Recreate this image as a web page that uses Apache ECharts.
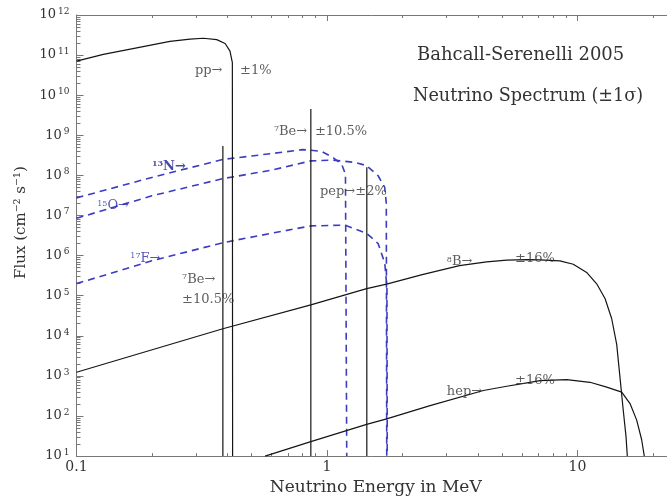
<!DOCTYPE html>
<html><head><meta charset="utf-8">
<script src="https://cdn.jsdelivr.net/npm/echarts@6/dist/echarts.min.js"></script>
<style>html,body{margin:0;padding:0;background:#fff}#c{width:667px;height:501px}</style>
</head><body><div id="c"></div>
<script>
// ---------- data (E in MeV, flux in cm^-2 s^-1 [MeV^-1]) ----------
const ppE  = [0.1, 0.128, 0.174, 0.236, 0.284, 0.321, 0.363, 0.392, 0.410, 0.419, 0.420];
const ppF  = [7.1e10, 1.04e11, 1.52e11, 2.21e11, 2.51e11, 2.63e11, 2.43e11, 1.95e11, 1.26e11, 6.5e10, 10];

const n13E = [0.1, 0.2, 0.384, 0.6, 0.8, 0.95, 1.06, 1.145, 1.185, 1.199];
const n13F = [2.75e7, 8.9e7, 2.5e8, 3.5e8, 4.4e8, 4.0e8, 2.75e8, 1.9e8, 1.07e8, 10];

const o15E = [0.1, 0.2, 0.384, 0.6, 0.862, 1.06, 1.3, 1.44, 1.6, 1.7, 1.725, 1.732];
const o15F = [8.5e6, 3.1e7, 8.3e7, 1.35e8, 2.3e8, 2.4e8, 2.1e8, 1.75e8, 9.8e7, 5.0e7, 2.0e7, 10];

const f17E = [0.1, 0.2, 0.384, 0.6, 0.862, 1.18, 1.44, 1.6, 1.7, 1.735, 1.74];
const f17F = [2.0e5, 7.4e5, 2.1e6, 3.6e6, 5.5e6, 5.75e6, 3.6e6, 2.0e6, 6.6e5, 1.6e5, 10];

const b8E  = [0.1, 0.384, 0.862, 1.44, 1.73, 2.4, 3.38, 4.34, 5.22, 6.3, 7.08, 8.51, 9.62, 10.88, 11.93, 12.88, 13.69, 14.34, 14.78, 15.23, 15.62, 15.81];
const b8F  = [1.23e3, 1.5e4, 5.9e4, 1.5e5, 1.95e5, 3.35e5, 5.6e5, 7.0e5, 7.7e5, 7.9e5, 7.8e5, 7.4e5, 6.1e5, 3.8e5, 1.98e5, 8.5e4, 2.7e4, 6.1e3, 920, 139, 31, 10];

const hepE = [0.566, 0.862, 1.44, 1.73, 2.58, 4.21, 5.22, 6.46, 7.08, 9.06, 11.22, 13.08, 15.02, 16.21, 17.23, 18.04, 18.48];
const hepF = [10, 23, 62, 85, 181, 432, 553, 693, 760, 804, 693, 524, 394, 204, 79, 25.6, 10];

// line sources: energy and (bottom, top) flux
const lineE    = [0.384, 0.862, 1.442];
const lineTopF = [5.4e8, 4.5e9, 1.6e8];
const lineBotF = [10, 10, 10];

// tick labels
const xMajorTicks = [0.1, 1, 10];
const xMinorTicks = [0.2,0.3,0.4,0.5,0.6,0.7,0.8,0.9,2,3,4,5,6,7,8,9,20];
const yMajorTicks = [1e1,1e2,1e3,1e4,1e5,1e6,1e7,1e8,1e9,1e10,1e11,1e12];
const yMinorTicks = [];
for (let n = 1; n < 12; n++) for (let k = 2; k <= 9; k++) yMinorTicks.push(k * Math.pow(10, n));

// annotation texts and their data-space anchors
const annoText = ['pp→', '±1%', '{s|7}Be→', '±10.5%', '{s|13}N→', '{s|15}O→', '{s|17}F→', '{s|7}Be→', '±10.5%', 'pep→±2%', '{s|8}B→', '±16%', 'hep→', '±16%'];
const annoE    = [0.297, 0.45, 0.614, 0.895, 0.200, 0.121, 0.164, 0.264, 0.264, 0.938, 3.01, 5.63, 3.01, 5.63];
const annoF    = [4.2e10, 4.2e10, 1.27e9, 1.27e9, 1.65e8, 1.73e7, 8.6e5, 2.5e5, 8.0e4, 4.0e7, 6.9e5, 8.6e5, 397, 780];
const annoKind = ['k','k','k','k','nb','n','n','k','k','k','k','k','k','k'];

// ---------- chart ----------
const FONT = 'DejaVu Serif';
const AX = '#777', TXT = '#333', BLK = '#151515', BLUE = '#3c3cc0';
const X_MAX = 22.77;
const pairs = (E, F) => E.map((e, i) => [e, F[i]]);

function xAxis(pos, major, withLabel) {
  return {
    type: 'log', logBase: 10, min: 0.1, max: X_MAX, position: pos,
    axisLine: { show: major, onZero: false, lineStyle: { color: AX, width: 1 } },
    axisTick: { show: true, inside: true, length: major ? 6 : 3,
      customValues: major ? xMajorTicks : xMinorTicks, lineStyle: { color: AX } },
    axisLabel: { show: withLabel, customValues: xMajorTicks, margin: 4,
      fontFamily: FONT, fontSize: 14, color: TXT,
      formatter: v => (v < 1 ? '0.1' : String(Math.round(v))) },
    splitLine: { show: false }
  };
}
function yAxis(major, withLabel) {
  return {
    type: 'log', logBase: 10, min: 10, max: 1e12, position: 'left',
    axisLine: { show: major, onZero: false, lineStyle: { color: AX, width: 1 } },
    axisTick: { show: true, inside: true, length: major ? 7 : 4,
      customValues: major ? yMajorTicks : yMinorTicks, lineStyle: { color: AX } },
    axisLabel: { show: withLabel, customValues: yMajorTicks, margin: 7,
      formatter: v => '{b|10}{s|' + Math.round(Math.log10(v)) + '}',
      rich: {
        b: { fontFamily: FONT, fontSize: 13, color: TXT, lineHeight: 16 },
        s: { fontFamily: FONT, fontSize: 9, color: TXT, lineHeight: 10, verticalAlign: 'top', padding: [0, 0, 0, 2] }
      } },
    splitLine: { show: false }
  };
}

const xs = [xAxis('bottom', true, true), xAxis('bottom', false, false), xAxis('top', true, false), xAxis('top', false, false)];
xs[0].name = 'Neutrino Energy in MeV';
xs[0].nameLocation = 'middle';
xs[0].nameGap = 19;
xs[0].nameTextStyle = { fontFamily: FONT, fontSize: 17, color: TXT, padding: [0, 0, 0, 8] };

const ys = [yAxis(true, true), yAxis(false, false)];
ys[0].name = 'Flux (cm⁻² s⁻¹)';
ys[0].nameLocation = 'middle';
ys[0].nameGap = 46;
ys[0].nameTextStyle = { fontFamily: FONT, fontSize: 15, color: TXT, padding: [0, 0, 0, 26] };

const solid = (name, data) => ({ type: 'line', name, data, showSymbol: false, symbol: 'none',
  lineStyle: { color: BLK, width: 1.2 }, z: 3, silent: true });
const dashed = (name, data) => ({ type: 'line', name, data, showSymbol: false, symbol: 'none',
  lineStyle: { color: BLUE, width: 1.6, type: [7, 5] }, z: 2, silent: true });

const series = [
  solid('pp', pairs(ppE, ppF)),
  dashed('13N', pairs(n13E, n13F)),
  dashed('15O', pairs(o15E, o15F)),
  dashed('17F', pairs(f17E, f17F)),
  solid('8B', pairs(b8E, b8F)),
  solid('hep', pairs(hepE, hepF))
];
const lineNames = ['7Be 0.384', '7Be 0.862', 'pep'];
lineE.forEach((e, i) => series.push(solid(lineNames[i], [[e, lineBotF[i]], [e, lineTopF[i]]])));

const kindStyle = {
  k:  { color: TXT, fontWeight: 'normal' },
  n:  { color: '#2c2ca8', fontWeight: 'normal' },
  nb: { color: '#1c1c8c', fontWeight: 'bold' }
};
series.push({
  type: 'scatter', name: 'labels', symbolSize: 0, silent: true, clip: false, z: 5,
  data: annoText.map((t, i) => ({
    value: [annoE[i], annoF[i]],
    label: {
      show: true, position: 'right', distance: 0, formatter: t,
      fontFamily: FONT, fontSize: 13,
      color: kindStyle[annoKind[i]].color, fontWeight: kindStyle[annoKind[i]].fontWeight,
      rich: { s: { fontFamily: FONT, fontSize: 8, verticalAlign: 'top', lineHeight: 9,
                   color: kindStyle[annoKind[i]].color, fontWeight: kindStyle[annoKind[i]].fontWeight } }
    }
  }))
});

const chart = echarts.init(document.getElementById('c'), null, { renderer: 'canvas' });
chart.setOption({
  animation: false,
  backgroundColor: '#ffffff',
  title: [
    { text: 'Bahcall-Serenelli 2005', left: 417, top: 46, padding: 0,
      textStyle: { fontFamily: FONT, fontSize: 18, fontWeight: 'normal', color: TXT } },
    { text: 'Neutrino Spectrum (±1σ)', left: 413, top: 87, padding: 0,
      textStyle: { fontFamily: FONT, fontSize: 17.6, fontWeight: 'normal', color: TXT } }
  ],
  grid: { left: 76.5, top: 15, bottom: 38, right: 0, containLabel: false },
  xAxis: xs,
  yAxis: ys,
  series
});
</script></body></html>
